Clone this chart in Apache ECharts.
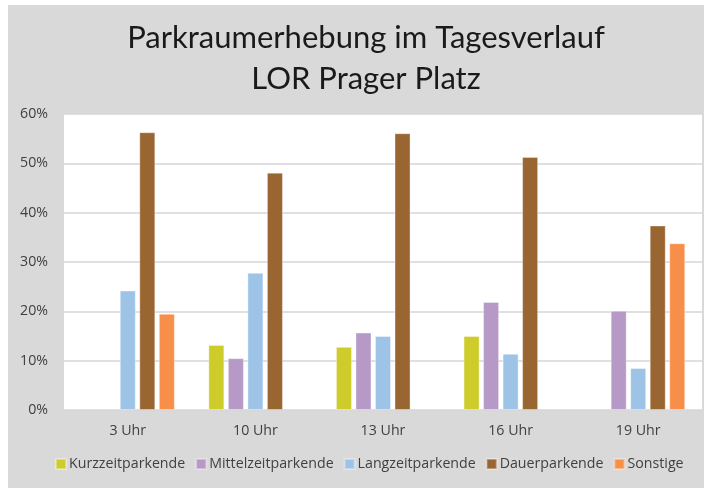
<!DOCTYPE html>
<html>
<head>
<meta charset="utf-8">
<script src="https://cdn.jsdelivr.net/npm/echarts@6/dist/echarts.min.js"></script>
<style>
  html, body { margin: 0; padding: 0; background: #ffffff; }
  #chart { position: absolute; left: 8px; top: 5px; width: 696px; height: 483px; }
</style>
</head>
<body>
<div id="chart"></div>
<script>
// Survey times (x-axis categories)
const categories = ['3 Uhr', '10 Uhr', '13 Uhr', '16 Uhr', '19 Uhr'];

// Share of parked vehicles per parker group, in percent (null = no value)
const kurzzeit   = [null, 13.2, 12.8, 15.0, null];
const mittelzeit = [null, 10.5, 15.7, 21.9, 20.1];
const langzeit   = [24.2, 27.8, 15.0, 11.4, 8.5];
const dauer      = [56.3, 48.1, 56.1, 51.3, 37.4];
const sonstige   = [19.5, null, null, null, 33.8];

// Value axis ticks
const yTicks = [0, 10, 20, 30, 40, 50, 60];

const seriesDefs = [
  { name: 'Kurzzeitparkende',   data: kurzzeit,   color: '#cdcc2a' },
  { name: 'Mittelzeitparkende', data: mittelzeit, color: '#b699c7' },
  { name: 'Langzeitparkende',   data: langzeit,   color: '#9dc3e6' },
  { name: 'Dauerparkende',      data: dauer,      color: '#996530' },
  { name: 'Sonstige',           data: sonstige,   color: '#f78f4a' }
];

const TITLE_FONT = 'Lato';
const FONT = 'Open Sans';
const chart = echarts.init(document.getElementById('chart'), null, { renderer: 'canvas' });

chart.setOption({
  backgroundColor: '#d9d9d9',
  animation: false,
  title: {
    text: 'Parkraumerhebung im Tagesverlauf\nLOR Prager Platz',
    left: 358,
    top: 12,
    padding: 0,
    textAlign: 'center',
    textStyle: {
      fontFamily: TITLE_FONT,
      fontSize: 31,
      fontWeight: 'normal',
      color: '#1a1a1a',
      lineHeight: 41
    }
  },
  legend: {
    data: seriesDefs.map(s => s.name),
    left: 47,
    top: 452,
    padding: 0,
    icon: 'rect',
    itemWidth: 10,
    itemHeight: 10,
    itemGap: 10,
    textStyle: { fontFamily: FONT, fontSize: 14.2, color: '#404040', padding: [0, 0, 0, -2] }
  },
  grid: {
    left: 56,
    top: 109,
    right: 2,
    bottom: 78,
    show: true,
    backgroundColor: '#ffffff',
    borderWidth: 0,
    containLabel: false
  },
  xAxis: {
    type: 'category',
    data: categories,
    axisLine: { show: false },
    axisTick: { show: false },
    axisLabel: { fontFamily: FONT, fontSize: 14.2, color: '#404040', margin: 14 }
  },
  yAxis: {
    type: 'value',
    min: yTicks[0],
    max: yTicks[yTicks.length - 1],
    interval: 10,
    axisLine: { show: false },
    axisTick: { show: false },
    axisLabel: { fontFamily: FONT, fontSize: 14.2, color: '#404040', margin: 16, formatter: '{value}%' },
    splitLine: { show: true, lineStyle: { color: '#d6d6d6', width: 1.5 } }
  },
  series: seriesDefs.map(s => ({
    name: s.name,
    type: 'bar',
    data: s.data,
    barWidth: 16,
    barGap: '22%',
    itemStyle: { color: s.color, borderColor: 'rgba(255,255,255,0.35)', borderWidth: 1 }
  }))
});
</script>
</body>
</html>
